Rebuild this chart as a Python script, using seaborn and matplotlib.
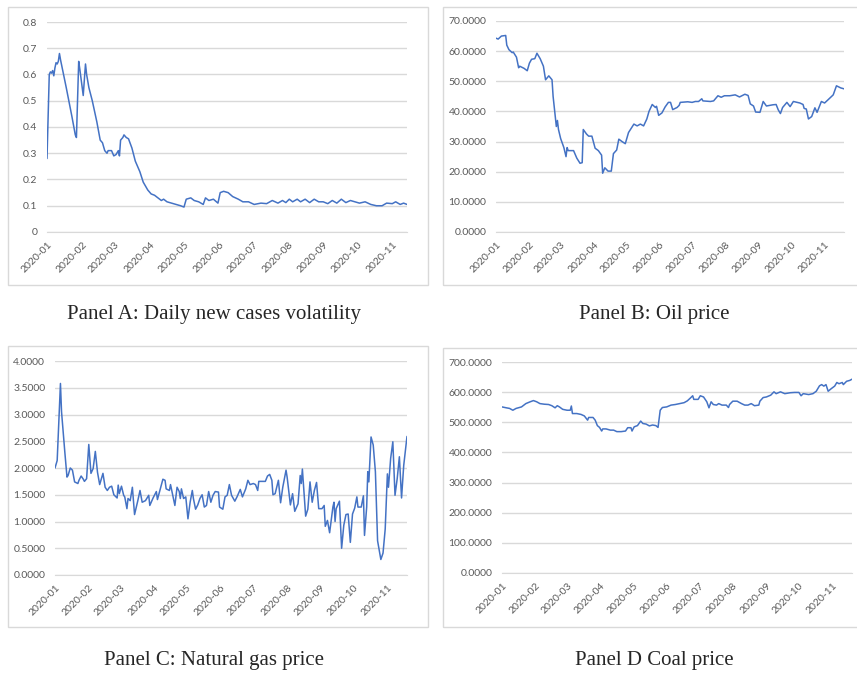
import pandas as pd
import numpy as np
import seaborn as sns
import matplotlib.pyplot as plt
import matplotlib.dates as mdates
from matplotlib.patches import Rectangle
from matplotlib.ticker import FixedLocator, FormatStrFormatter

# x values are days since 2020-01-01
vol_day = [0, 2, 3, 4, 5, 6, 7, 8, 9, 10, 11, 12, 17, 22, 25, 26, 28, 29, 32, 34,
           35, 37, 40, 44, 47, 49, 51, 53, 54, 57, 59, 61, 63, 64, 65, 67, 68, 70, 72, 75,
           78, 82, 85, 89, 92, 95, 98, 101, 103, 106, 110, 114, 118, 121, 123, 127, 130, 134, 138, 140,
           143, 147, 151, 153, 156, 160, 164, 169, 173, 178, 183, 189, 194, 199, 204, 208, 211, 214, 217, 221,
           224, 228, 232, 236, 240, 244, 248, 252, 256, 260, 264, 268, 272, 276, 281, 286, 291, 296, 300, 305,
           308, 312, 315, 318]
vol_val = [0.28, 0.60, 0.61, 0.605, 0.615, 0.595, 0.625, 0.645, 0.64, 0.65, 0.68, 0.655, 0.55, 0.44, 0.37, 0.36, 0.65, 0.62, 0.52, 0.64,
           0.60, 0.55, 0.50, 0.42, 0.35, 0.34, 0.31, 0.30, 0.31, 0.31, 0.29, 0.295, 0.31, 0.29, 0.35, 0.36, 0.37, 0.36, 0.355, 0.32,
           0.27, 0.23, 0.19, 0.16, 0.145, 0.14, 0.13, 0.12, 0.125, 0.115, 0.11, 0.105, 0.10, 0.095, 0.125, 0.13, 0.12, 0.115, 0.105, 0.13,
           0.12, 0.125, 0.11, 0.15, 0.155, 0.15, 0.135, 0.125, 0.115, 0.115, 0.105, 0.11, 0.108, 0.12, 0.11, 0.12, 0.112, 0.125, 0.115, 0.125,
           0.115, 0.125, 0.112, 0.125, 0.115, 0.115, 0.108, 0.12, 0.11, 0.125, 0.112, 0.12, 0.115, 0.11, 0.115, 0.105, 0.10, 0.10, 0.11, 0.108,
           0.115, 0.105, 0.11, 0.105]

oil_day = [0, 2, 5, 9, 10, 12, 15, 16, 19, 21, 22, 26, 29, 31, 33, 36, 38, 41, 44, 46,
           49, 52, 53, 56, 57, 58, 60, 63, 65, 66, 67, 72, 75, 78, 80, 81, 84, 86, 89, 92,
           95, 98, 99, 101, 104, 107, 109, 112, 114, 117, 120, 123, 128, 131, 134, 137, 140, 142, 145, 148,
           149, 151, 154, 157, 160, 162, 164, 168, 170, 171, 178, 182, 185, 188, 191, 192, 199, 202, 206, 209,
           212, 217, 222, 226, 231, 234, 236, 239, 241, 245, 248, 251, 257, 260, 262, 264, 266, 270, 273, 276,
           282, 285, 286, 288, 290, 293, 296, 298, 302, 305, 308, 313, 316, 320, 323]
oil_val = [64.3, 64.0, 65.0, 65.2, 62.0, 60.5, 59.5, 59.7, 58.0, 54.5, 55.0, 54.3, 53.5, 56.0, 57.3, 57.5, 59.3, 57.5, 55.0, 50.5,
           51.8, 50.5, 45.0, 35.0, 37.0, 34.0, 31.0, 28.0, 25.0, 28.0, 27.0, 27.0, 24.5, 22.8, 23.0, 34.0, 32.5, 31.8, 31.8, 27.8,
           27.0, 25.5, 19.5, 21.3, 20.2, 20.2, 26.0, 27.2, 30.8, 30.0, 29.3, 33.0, 35.8, 35.2, 35.8, 35.2, 37.5, 40.0, 42.3, 41.3,
           41.7, 38.7, 39.5, 41.5, 43.0, 43.0, 40.6, 41.3, 42.0, 43.0, 43.2, 43.0, 43.3, 43.3, 44.2, 43.5, 43.3, 43.5, 45.2, 44.7,
           45.2, 45.2, 45.5, 44.8, 45.7, 45.3, 42.5, 41.8, 39.8, 39.7, 43.3, 41.8, 42.2, 42.3, 40.5, 39.3, 41.3, 43.0, 41.6, 43.3,
           42.8, 42.3, 41.0, 40.8, 37.5, 38.3, 41.2, 39.7, 43.3, 42.8, 43.8, 45.5, 48.5, 47.8, 47.5]

gas_day = [0, 2, 5, 6, 9, 11, 12, 14, 16, 18, 21, 22, 24, 26, 27, 29, 31, 33, 35, 37,
           39, 41, 44, 46, 48, 50, 52, 54, 57, 58, 59, 61, 63, 64, 66, 67, 69, 71, 73, 76,
           78, 80, 83, 86, 87, 90, 93, 94, 97, 99, 101, 102, 105, 106, 108, 110, 112, 114, 115, 116,
           118, 120, 122, 124, 126, 127, 129, 131, 133, 135, 137, 139, 141, 143, 145, 147, 150, 151, 154, 156,
           158, 160, 162, 165, 167, 170, 172, 175, 177, 179, 182, 184, 186, 187, 190, 193, 195, 197, 199, 200,
           202, 205, 207, 209, 212, 213, 216, 218, 220, 223, 225, 226, 227, 230, 232, 234, 236, 238, 240, 242,
           245, 247, 248, 250, 252, 255, 256, 257, 258, 261, 263, 265, 267, 269, 271, 273, 275, 277, 278, 281,
           283, 284, 286, 287, 288, 290, 292, 294, 296, 299, 301, 303, 305, 306, 308, 310, 312, 314, 316, 318,
           320, 323]
gas_val = [2.00, 2.14, 3.58, 3.05, 2.30, 1.83, 1.86, 2.00, 1.96, 1.74, 1.71, 1.77, 1.85, 1.79, 1.75, 1.80, 2.44, 1.90, 1.99, 2.31,
           1.92, 1.69, 1.90, 1.64, 1.58, 1.64, 1.66, 1.50, 1.44, 1.68, 1.52, 1.66, 1.49, 1.46, 1.24, 1.43, 1.39, 1.64, 1.13, 1.39,
           1.58, 1.36, 1.39, 1.49, 1.30, 1.44, 1.56, 1.41, 1.64, 1.79, 1.77, 1.61, 1.58, 1.69, 1.49, 1.30, 1.64, 1.56, 1.43, 1.61,
           1.43, 1.46, 1.05, 1.36, 1.58, 1.43, 1.23, 1.31, 1.43, 1.50, 1.27, 1.30, 1.56, 1.36, 1.49, 1.56, 1.55, 1.27, 1.23, 1.46,
           1.49, 1.69, 1.49, 1.38, 1.46, 1.60, 1.46, 1.61, 1.77, 1.69, 1.71, 1.69, 1.58, 1.75, 1.75, 1.75, 1.85, 1.88, 1.77, 1.50,
           1.52, 1.77, 1.35, 1.64, 1.96, 1.83, 1.31, 1.52, 1.19, 1.33, 1.86, 1.71, 1.98, 1.10, 1.23, 1.74, 1.36, 1.58, 1.73, 1.24,
           1.24, 1.30, 0.91, 1.02, 0.79, 1.27, 1.36, 1.00, 1.24, 1.38, 0.50, 0.93, 1.13, 1.14, 0.61, 1.14, 1.25, 1.46, 1.27, 1.27,
           1.48, 0.74, 1.27, 1.93, 1.74, 2.58, 2.43, 1.93, 0.64, 0.29, 0.41, 0.86, 1.89, 1.64, 2.18, 2.49, 1.49, 1.80, 2.21, 1.44,
           2.05, 2.59]

coal_day = [0, 4, 7, 10, 13, 18, 22, 26, 29, 32, 35, 39, 43, 46, 49, 51, 53, 56, 60, 63,
            64, 65, 69, 73, 76, 79, 80, 84, 86, 88, 90, 92, 93, 96, 100, 103, 106, 110, 114, 116,
            119, 120, 122, 125, 128, 130, 133, 136, 139, 142, 144, 146, 148, 152, 156, 160, 164, 168, 171, 174,
            176, 177, 181, 183, 186, 189, 191, 193, 195, 198, 200, 203, 207, 209, 210, 213, 217, 221, 224, 227,
            230, 233, 237, 238, 241, 244, 248, 251, 253, 257, 261, 266, 270, 274, 276, 278, 283, 287, 290, 293,
            295, 297, 299, 301, 304, 307, 309, 311, 314, 315, 318, 321, 323]
coal_val = [551, 548, 546, 540, 546, 551, 562, 568, 572, 568, 562, 560, 559, 555, 548, 555, 551, 543, 540, 540,
            554, 529, 529, 526, 521, 507, 516, 516, 507, 489, 483, 471, 478, 478, 474, 474, 469, 469, 471, 482,
            482, 471, 485, 489, 504, 496, 494, 488, 491, 489, 483, 540, 549, 551, 557, 559, 562, 565, 571, 581,
            588, 576, 576, 588, 584, 568, 548, 568, 559, 557, 562, 557, 557, 549, 559, 570, 570, 562, 557, 557,
            562, 555, 557, 570, 582, 584, 590, 601, 595, 601, 595, 598, 599, 599, 588, 595, 592, 595, 603, 621,
            625, 620, 625, 603, 612, 620, 632, 628, 632, 625, 636, 639, 643]

captions = ['Panel A: Daily new cases volatility', 'Panel B: Oil price',
            'Panel C: Natural gas price', 'Panel D Coal price']

sns.set_style('white')
plt.rcParams['font.family'] = ['Lato', 'DejaVu Sans']

W, H = 857, 688
fig = plt.figure(figsize=(W / 100, H / 100), dpi=100)
start = pd.Timestamp('2020-01-01')

panels = [
    (vol_day, vol_val, np.arange(0, 0.81, 0.1), '%g', (47, 22, 407, 232), (8, 7, 428, 285), (214, 315)),
    (oil_day, oil_val, np.arange(0, 71, 10), '%.4f', (496, 21, 844, 232), (443, 7, 870, 285), (654, 315)),
    (gas_day, gas_val, np.arange(0, 4.01, 0.5), '%.4f', (55, 361, 407, 575), (8, 346, 428, 627), (214, 661)),
    (coal_day, coal_val, np.arange(0, 701, 100), '%.4f', (502, 362, 852, 573), (443, 348, 870, 627), (654, 661)),
]

for (days, vals, yt, fmt, pa, bx, cp), cap in zip(panels, captions):
    x0, y0, x1, y1 = pa
    ax = fig.add_axes([x0 / W, 1 - y1 / H, (x1 - x0) / W, (y1 - y0) / H])
    dates = start + pd.to_timedelta(days, unit='D')
    sns.lineplot(x=dates, y=vals, ax=ax, color='#4472C4', lw=1.1, estimator=None)
    ax.set_xlim(dates[0], dates[-1])
    ax.set_ylim(yt[0], yt[-1])
    ax.yaxis.set_major_locator(FixedLocator(yt))
    ax.yaxis.set_major_formatter(FormatStrFormatter(fmt))
    ax.xaxis.set_major_locator(mdates.MonthLocator())
    ax.xaxis.set_major_formatter(mdates.DateFormatter('%Y-%m'))
    ax.grid(axis='y', color='#d9d9d9', lw=1)
    ax.grid(axis='x', visible=False)
    for s in ['top', 'right', 'left']:
        ax.spines[s].set_visible(False)
    ax.spines['bottom'].set_color('#d9d9d9')
    ax.tick_params(axis='y', length=0, pad=7, labelsize=7.5, labelcolor='#595959')
    ax.tick_params(axis='x', length=4, color='#d9d9d9', width=1, pad=2, labelsize=7.5, labelcolor='#595959')
    plt.setp(ax.get_xticklabels(), rotation=45, ha='right', rotation_mode='anchor')
    ax.set_xlabel('')
    ax.set_ylabel('')

    bx0, by0, bx1, by1 = bx
    fig.patches.append(Rectangle((bx0 / W, 1 - by1 / H), (bx1 - bx0) / W, (by1 - by0) / H,
                                 transform=fig.transFigure, fill=False, ec='#d9d9d9', lw=1))
    fig.text(cp[0] / W, 1 - cp[1] / H, cap, ha='center', va='center',
             family='Liberation Serif', fontsize=15)

fig.savefig('out.png', dpi=100)
